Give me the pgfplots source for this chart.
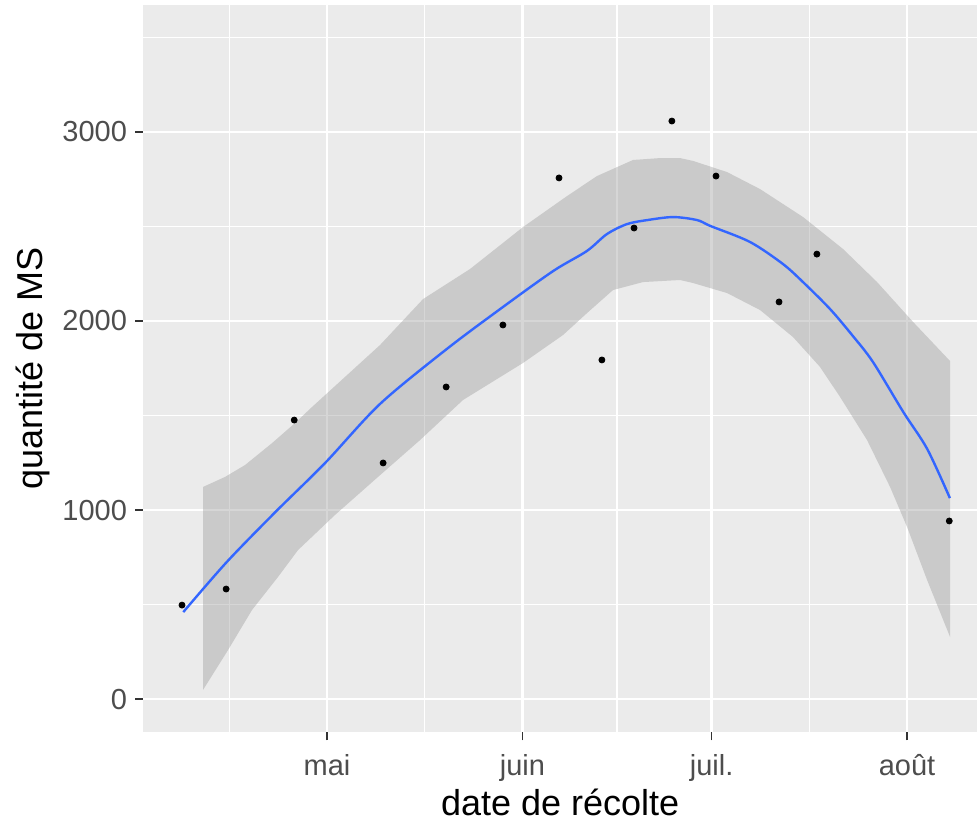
\documentclass[border=0pt]{standalone}
\usepackage{pgfplots}
\pgfplotsset{compat=1.18}
\usepackage{fontspec}
\setmainfont{Liberation Sans}
\definecolor{panelbg}{HTML}{EBEBEB}
\definecolor{ribbon}{HTML}{999999}
\definecolor{smooth}{HTML}{3366FF}
\definecolor{tickgrey}{HTML}{333333}
\definecolor{labelgrey}{HTML}{4D4D4D}
% x = days after 1 May
\begin{document}
\begin{tikzpicture}
  \begin{axis}[
      at={(71.65pt,45.35pt)}, anchor=south west,
      width=416.85pt, height=363.65pt, scale only axis,
      xmin=-29.14, xmax=103.1, ymin=-176, ymax=3672,
      axis background/.style={fill=panelbg},
      axis line style={draw=none},
      tick align=outside, tick pos=left,
      major tick length=4pt, minor tick length=0pt,
      every tick/.style={tickgrey, line width=0.9pt},
      grid=both,
      major grid style={white, line width=1.1pt},
      minor grid style={white, line width=0.55pt},
      xtick={0,31,61,92},
      xticklabels={mai,juin,juil.,août},
      minor xtick={-15.5,15.5,46,76.5},
      ytick={0,1000,2000,3000},
      minor ytick={500,1500,2500,3500},
      /pgf/number format/1000 sep={},
      /pgf/number format/assume math mode=true,
      ticklabel style={font=\fontsize{14.5}{16}\selectfont, text=labelgrey},
      yticklabel style={inner sep=0pt, anchor=east, xshift=-4pt},
      xticklabel style={inner sep=0pt, anchor=base, yshift=-17.4pt},
      xlabel={date de récolte},
      ylabel={quantité de MS},
      label style={font=\fontsize{18}{20}\selectfont, text=black},
      xlabel style={at={(axis description cs:0.5,0)}, anchor=base, yshift=-41.5pt},
      ylabel style={at={(axis description cs:0,0.5)}, anchor=base, yshift=50.2pt},
      clip=true,
    ]
    % observations
    \addplot[only marks, mark=*, mark size=1.5pt, black] coordinates {
      (-23.0,497) (-16.0,582) (-5.2,1476) (8.9,1249) (18.9,1651)
      (27.9,1979) (36.8,2757) (43.6,1794) (48.7,2492) (54.7,3058)
      (61.7,2767) (71.7,2101) (77.7,2354) (98.7,942)
    };
    % confidence band: upper edge then lower edge back
    \addplot[draw=none, fill=ribbon, fill opacity=0.4] coordinates {
      (-19.67,1122) (-16.18,1175) (-13.0,1238) (-8.72,1354) (-5.08,1460)
      (-2.38,1545) (8.41,1873) (15.23,2116) (22.68,2275) (31.09,2497)
      (38.07,2661) (42.83,2767) (48.54,2852) (52.82,2862) (56.0,2862)
      (58.06,2847) (63.45,2788) (68.69,2698) (75.51,2550) (81.85,2381)
      (87.25,2206) (92.96,1995) (98.83,1788)
      (98.83,328) (95.18,630) (92.01,910) (89.31,1122) (85.66,1370)
      (81.38,1598) (78.2,1757) (73.92,1915) (68.69,2058) (63.45,2148)
      (58.06,2201) (56.0,2217) (50.13,2206) (45.37,2164) (41.24,2042)
      (37.44,1926) (31.09,1778) (21.57,1582) (14.75,1370) (8.09,1175)
      (1.27,974) (-4.60,788) (-7.77,646) (-11.90,471) (-15.70,259)
      (-19.67,48)
    };
    % loess fit
    \addplot[smooth, tension=0.5, color=smooth, line width=1.2pt, mark=none] coordinates {
      (-22.8,460) (-15.9,725) (-8.2,989) (-0.3,1249) (8.4,1561)
      (19.0,1852) (27.9,2074) (35.9,2265) (41.2,2370) (44.4,2460)
      (47.6,2513) (50.8,2534) (54.9,2550) (58.7,2534) (60.8,2503)
      (67.1,2418) (72.3,2302) (75.5,2206) (79.8,2063) (83.4,1921)
      (86.6,1783) (91.4,1519) (95.2,1323) (98.8,1063)
    };
  \end{axis}
  \pgfresetboundingbox
  \useasboundingbox (0,0) rectangle (488.5pt,411.5pt);
\end{tikzpicture}
\end{document}
